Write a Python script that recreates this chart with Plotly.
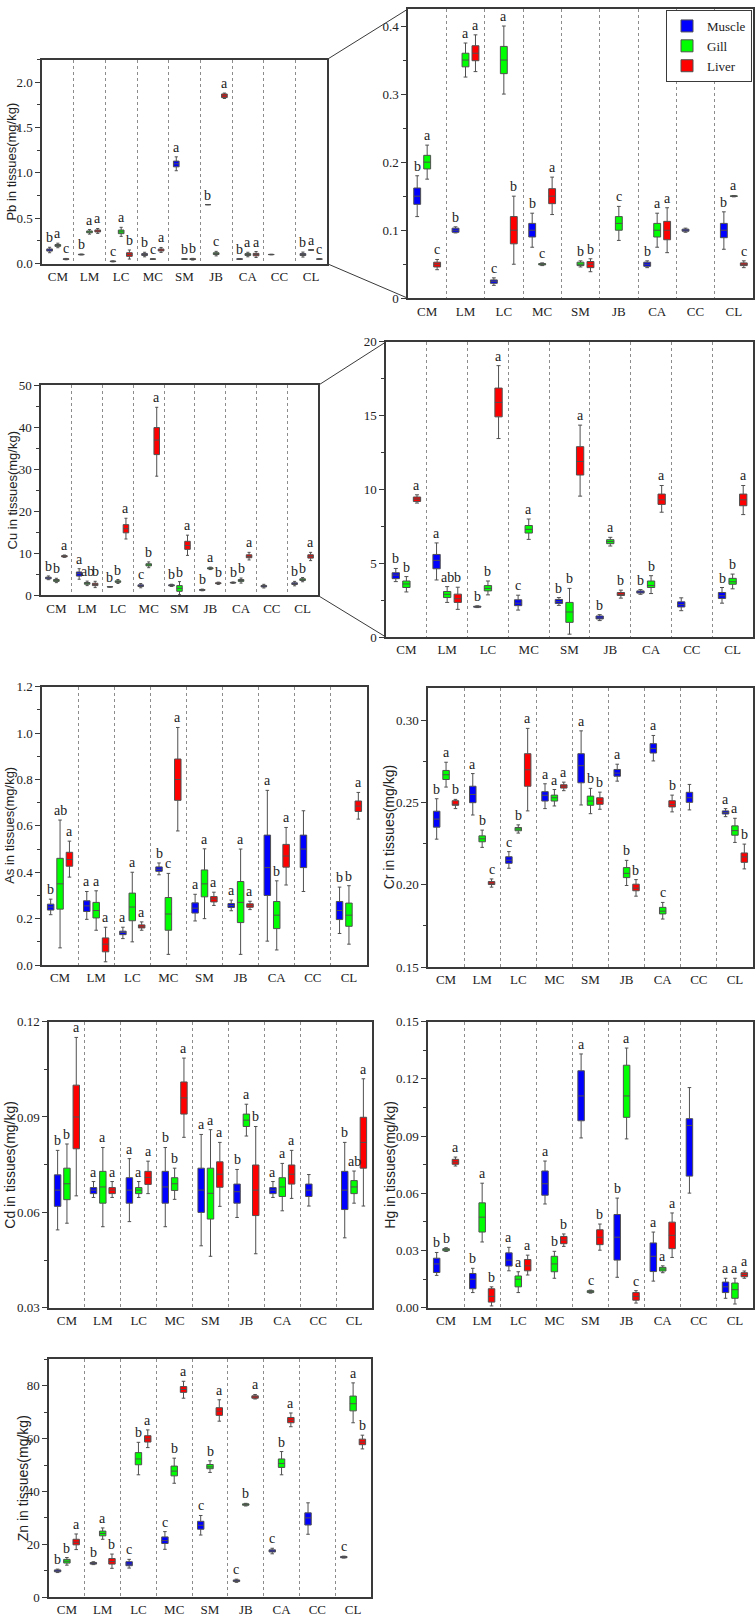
import plotly.graph_objects as go

SITES = ["CM", "LM", "LC", "MC", "SM", "JB", "CA", "CC", "CL"]
TISSUES = ["Muscle", "Gill", "Liver"]
COLORS = {"Muscle": "#0000FF", "Gill": "#00FF00", "Liver": "#FF0000"}

# each entry: (lower whisker, Q1, median, Q3, upper whisker); None = no data
pb_muscle = [(0.12, 0.138, 0.15, 0.162, 0.18), (0.096, 0.097, 0.10, 0.103, 0.105),
             (0.019, 0.022, 0.025, 0.027, 0.03), (0.075, 0.09, 0.10, 0.11, 0.125),
             (1.024, 1.067, 1.10, 1.13, 1.177), (0.65, 0.65, 0.65, 0.65, 0.65),
             (0.045, 0.047, 0.05, 0.053, 0.055), (0.097, 0.0985, 0.10, 0.1015, 0.103),
             (0.072, 0.089, 0.10, 0.11, 0.127)]
pb_gill = [(0.175, 0.19, 0.20, 0.21, 0.225), (0.325, 0.34, 0.35, 0.36, 0.375),
           (0.30, 0.33, 0.35, 0.37, 0.40), (0.048, 0.049, 0.05, 0.051, 0.052),
           (0.046, 0.048, 0.05, 0.053, 0.055), (0.085, 0.10, 0.11, 0.12, 0.135),
           (0.075, 0.09, 0.10, 0.11, 0.125), None,
           (0.149, 0.1495, 0.15, 0.1505, 0.151)]
pb_liver = [(0.042, 0.046, 0.05, 0.053, 0.057), (0.333, 0.349, 0.36, 0.371, 0.387),
            (0.05, 0.08, 0.10, 0.12, 0.15), (0.123, 0.139, 0.15, 0.161, 0.178),
            (0.039, 0.045, 0.05, 0.054, 0.058), (1.82, 1.83, 1.85, 1.87, 1.88),
            (0.067, 0.086, 0.10, 0.113, 0.133), None,
            (0.045, 0.048, 0.05, 0.052, 0.055)]
pb_muscle_sig = ["b", "b", "c", "b", "a", "b", "b", "", "b"]
pb_gill_sig = ["a", "a", "a", "c", "b", "c", "a", "", "a"]
pb_liver_sig = ["c", "a", "b", "a", "b", "a", "a", "", "c"]

cu_muscle = [(3.76, 3.96, 4.2, 4.36, 4.65), (3.87, 4.63, 5.2, 5.6, 6.38),
             (2.0, 2.03, 2.06, 2.09, 2.12), (1.83, 2.13, 2.3, 2.53, 2.84),
             (2.15, 2.28, 2.4, 2.55, 2.68), (1.12, 1.23, 1.3, 1.43, 1.52),
             (2.9, 2.98, 3.05, 3.13, 3.22), (1.79, 2.04, 2.2, 2.39, 2.66),
             (2.3, 2.62, 2.8, 3.02, 3.36)]
cu_gill = [(3.06, 3.36, 3.6, 3.8, 4.1), (2.35, 2.68, 2.9, 3.09, 3.42),
           (2.86, 3.13, 3.3, 3.49, 3.8), (6.62, 7.05, 7.3, 7.56, 8.0),
           (0.2, 1.0, 1.7, 2.35, 3.3), (6.17, 6.33, 6.47, 6.6, 6.76),
           (2.95, 3.36, 3.5, 3.8, 4.16), None,
           (3.27, 3.58, 3.75, 3.98, 4.27)]
cu_liver = [(9.08, 9.19, 9.35, 9.49, 9.64), (1.88, 2.35, 2.6, 2.91, 3.38),
            (13.45, 14.92, 15.9, 16.87, 18.39), (28.4, 33.54, 37.0, 39.97, 44.8),
            (9.55, 10.98, 11.9, 12.9, 14.36), (2.64, 2.82, 2.9, 3.02, 3.18),
            (8.46, 8.99, 9.3, 9.69, 10.27), None,
            (8.3, 8.9, 9.3, 9.69, 10.27)]
cu_muscle_sig = ["b", "a", "b", "c", "b", "b", "b", "", "b"]
cu_gill_sig = ["b", "ab", "b", "a", "b", "a", "b", "", "b"]
cu_gill_sig_overview = ["b", "ab", "b", "b", "b", "a", "b", "", "b"]
cu_liver_sig = ["a", "b", "a", "a", "a", "b", "a", "", "a"]

as_muscle = [(0.217, 0.237, 0.25, 0.2625, 0.284), (0.197, 0.231, 0.255, 0.277, 0.317),
             (0.114, 0.131, 0.14, 0.146, 0.163), (0.389, 0.404, 0.413, 0.423, 0.44),
             (0.19, 0.224, 0.245, 0.268, 0.305), (0.234, 0.248, 0.256, 0.265, 0.28),
             (0.103, 0.30, 0.42, 0.56, 0.753), (0.317, 0.42, 0.50, 0.56, 0.665),
             (0.136, 0.196, 0.235, 0.274, 0.336)]
as_gill = [(0.074, 0.241, 0.35, 0.46, 0.625), (0.15, 0.203, 0.235, 0.27, 0.32),
           (0.10, 0.191, 0.25, 0.31, 0.40), (0.046, 0.15, 0.22, 0.291, 0.395),
           (0.20, 0.294, 0.35, 0.41, 0.501), (0.046, 0.183, 0.27, 0.36, 0.50),
           (0.065, 0.157, 0.215, 0.274, 0.363), None,
           (0.09, 0.167, 0.215, 0.267, 0.342)]
as_liver = [(0.379, 0.426, 0.455, 0.486, 0.534), (0.014, 0.057, 0.09, 0.117, 0.163),
            (0.15, 0.16, 0.165, 0.173, 0.186), (0.578, 0.71, 0.80, 0.888, 1.024),
            (0.257, 0.272, 0.285, 0.295, 0.314), (0.239, 0.249, 0.256, 0.264, 0.275),
            (0.345, 0.422, 0.47, 0.52, 0.593), None,
            (0.629, 0.662, 0.685, 0.707, 0.744)]
as_muscle_sig = ["b", "a", "a", "b", "a", "a", "a", "", "b"]
as_gill_sig = ["ab", "a", "a", "c", "a", "a", "b", "", "b"]
as_liver_sig = ["a", "a", "a", "a", "a", "a", "a", "", "a"]

cr_muscle = [(0.2278, 0.2351, 0.240, 0.2448, 0.2524), (0.2425, 0.25, 0.255, 0.26, 0.2677),
             (0.2101, 0.2131, 0.215, 0.2171, 0.2202), (0.2464, 0.251, 0.2545, 0.2567, 0.2615),
             (0.2486, 0.2621, 0.2725, 0.2798, 0.2937), (0.2631, 0.2661, 0.268, 0.2702, 0.2734),
             (0.2754, 0.2802, 0.283, 0.2859, 0.2909), (0.2456, 0.2502, 0.253, 0.2563, 0.2611),
             (0.2415, 0.2431, 0.244, 0.245, 0.2464)]
cr_gill = [(0.2595, 0.2641, 0.267, 0.2696, 0.2746), (0.2228, 0.2262, 0.228, 0.2298, 0.2333),
           (0.2315, 0.2329, 0.234, 0.2349, 0.2365), (0.248, 0.251, 0.253, 0.2546, 0.258),
           (0.2433, 0.2484, 0.251, 0.254, 0.2587), (0.1996, 0.2044, 0.207, 0.2105, 0.2149),
           (0.1792, 0.1823, 0.184, 0.1863, 0.1893), None,
           (0.2258, 0.2302, 0.233, 0.2359, 0.2405)]
cr_liver = [(0.2464, 0.2484, 0.249, 0.2512, 0.252), (0.1986, 0.2002, 0.201, 0.202, 0.2036),
            (0.245, 0.26, 0.27, 0.2798, 0.2952), (0.2573, 0.2589, 0.26, 0.2609, 0.2625),
            (0.246, 0.249, 0.251, 0.253, 0.2564), (0.1931, 0.1964, 0.198, 0.2004, 0.2032),
            (0.2444, 0.2474, 0.249, 0.2512, 0.2546), None,
            (0.2097, 0.2137, 0.217, 0.2194, 0.2248)]
cr_muscle_sig = ["b", "a", "c", "a", "a", "a", "a", "", "a"]
cr_gill_sig = ["a", "b", "b", "a", "b", "b", "c", "", "a"]
cr_liver_sig = ["b", "c", "a", "a", "b", "b", "b", "", "b"]

cd_muscle = [(0.0545, 0.0619, 0.067, 0.0718, 0.0795), (0.0647, 0.0659, 0.067, 0.0678, 0.0697),
             (0.0571, 0.0629, 0.067, 0.0709, 0.0769), (0.0555, 0.0629, 0.068, 0.0729, 0.0804),
             (0.0495, 0.060, 0.067, 0.0739, 0.0845), (0.0584, 0.0629, 0.0665, 0.0689, 0.0735),
             (0.0647, 0.0659, 0.067, 0.0678, 0.0697), (0.062, 0.065, 0.067, 0.0689, 0.0719),
             (0.052, 0.0609, 0.067, 0.0729, 0.082)]
cd_gill = [(0.0566, 0.064, 0.069, 0.0739, 0.0815), (0.0555, 0.0629, 0.068, 0.0729, 0.0804),
           (0.0647, 0.0659, 0.067, 0.0678, 0.0697), (0.0641, 0.0669, 0.069, 0.0709, 0.0739),
           (0.0462, 0.0579, 0.066, 0.0739, 0.086), (0.084, 0.087, 0.089, 0.0909, 0.094),
           (0.0605, 0.065, 0.068, 0.0709, 0.0754), None,
           (0.0629, 0.0659, 0.068, 0.070, 0.073)]
cd_liver = [(0.0652, 0.080, 0.090, 0.100, 0.115), (0.0647, 0.0659, 0.067, 0.0678, 0.0697),
            (0.0659, 0.0688, 0.071, 0.0729, 0.0761), (0.0836, 0.0909, 0.096, 0.101, 0.1085),
            (0.0619, 0.0679, 0.072, 0.0759, 0.082), (0.047, 0.059, 0.067, 0.0749, 0.087),
            (0.0644, 0.0689, 0.072, 0.0749, 0.0795), None,
            (0.062, 0.0739, 0.082, 0.0899, 0.102)]
cd_muscle_sig = ["b", "a", "a", "b", "a", "b", "a", "", "b"]
cd_gill_sig = ["b", "a", "a", "b", "a", "a", "a", "", "ab"]
cd_liver_sig = ["a", "a", "a", "a", "a", "b", "a", "", "a"]

hg_muscle = [(0.017, 0.0185, 0.023, 0.026, 0.029), (0.008, 0.010, 0.015, 0.018, 0.0207),
             (0.0194, 0.0219, 0.025, 0.0288, 0.0317), (0.0544, 0.059, 0.065, 0.0717, 0.0769),
             (0.089, 0.098, 0.111, 0.1242, 0.133), (0.016, 0.025, 0.037, 0.0489, 0.0575),
             (0.014, 0.019, 0.027, 0.034, 0.0397), (0.0601, 0.069, 0.0955, 0.0991, 0.1154),
             (0.005, 0.008, 0.011, 0.0135, 0.0155)]
hg_gill = [(0.0295, 0.0299, 0.0305, 0.031, 0.0315), (0.0345, 0.0397, 0.0475, 0.055, 0.0653),
           (0.008, 0.011, 0.015, 0.0167, 0.0189), (0.0155, 0.0189, 0.023, 0.027, 0.0296),
           (0.0077, 0.008, 0.0085, 0.009, 0.0093), (0.0885, 0.0998, 0.111, 0.1271, 0.1361),
           (0.0184, 0.0193, 0.0203, 0.0212, 0.022), None,
           (0.002, 0.005, 0.0095, 0.013, 0.0155)]
hg_liver = [(0.0743, 0.0752, 0.0765, 0.0778, 0.079), (0.001, 0.003, 0.006, 0.010, 0.011),
            (0.0172, 0.0194, 0.022, 0.0253, 0.0276), (0.0322, 0.0336, 0.0355, 0.0374, 0.0387),
            (0.0302, 0.0331, 0.037, 0.0409, 0.0439), (0.0025, 0.004, 0.006, 0.008, 0.009),
            (0.0264, 0.031, 0.038, 0.0449, 0.0497), None,
            (0.0155, 0.0163, 0.0175, 0.0184, 0.0193)]
hg_muscle_sig = ["b", "b", "a", "a", "a", "b", "a", "", "a"]
hg_gill_sig = ["b", "a", "a", "b", "c", "a", "a", "", "a"]
hg_liver_sig = ["a", "b", "a", "b", "b", "c", "a", "", "a"]

zn_muscle = [(9.3, 9.6, 9.9, 10.3, 10.6), (12.3, 12.5, 12.8, 13.1, 13.4),
             (11.0, 11.9, 12.5, 13.4, 14.3), (18.1, 20.3, 21.4, 22.8, 24.8),
             (23.5, 25.7, 27.2, 28.7, 30.9), (5.6, 5.9, 6.2, 6.5, 6.8),
             (16.4, 17.1, 17.4, 17.9, 18.5), (23.8, 27.3, 30.0, 31.9, 35.7),
             (14.8, 14.9, 15.1, 15.4, 15.5)]
zn_gill = [(12.1, 12.9, 13.6, 14.3, 15.0), (21.9, 23.2, 24.1, 25.0, 26.2),
           (46.3, 50.1, 52.3, 54.7, 58.6), (43.1, 45.9, 47.7, 49.6, 52.6),
           (47.2, 48.6, 49.3, 50.2, 51.6), (34.5, 34.8, 35.0, 35.3, 35.5),
           (46.3, 49.1, 50.6, 52.3, 55.1), None,
           (66.0, 70.5, 73.2, 76.1, 81.1)]
zn_liver = [(18.0, 19.8, 20.8, 21.9, 23.9), (10.9, 12.5, 13.5, 14.6, 16.3),
            (56.6, 58.7, 59.9, 61.1, 63.3), (75.3, 77.5, 78.6, 79.7, 81.7),
            (66.6, 68.8, 70.4, 71.7, 74.7), (75.0, 75.3, 75.8, 76.2, 76.7),
            (64.5, 66.0, 67.0, 68.0, 69.7), None,
            (56.1, 57.7, 58.7, 59.8, 61.3)]
zn_muscle_sig = ["b", "b", "c", "c", "c", "c", "c", "", "c"]
zn_gill_sig = ["b", "a", "b", "b", "b", "b", "b", "", "a"]
zn_liver_sig = ["a", "b", "a", "a", "a", "a", "a", "", "b"]

# ---------------------------------------------------------------- layout
W, H = 756, 1619
BOXGAP, BOXGROUPGAP = 0.22, 0.31
SERIF = "Liberation Serif"
SANS = "Liberation Sans"
AXC = "#3a3a3a"

panels = [
    dict(data=(pb_muscle, pb_gill, pb_liver), sig=(pb_muscle_sig, pb_gill_sig, pb_liver_sig),
         px=(42, 327), py=(53, 259), yr=(0, 2.25), dtick=0.5, minor=0.25, fmt=".1f",
         title="Pb in tissues(mg/kg)", tx=12, ts=13),
    dict(data=(pb_muscle, pb_gill, pb_liver), sig=(pb_muscle_sig, pb_gill_sig, pb_liver_sig),
         px=(408, 753), py=(2, 294), yr=(0, 0.425), dtick=0.1, minor=0.05, fmt="",
         title=None, legend=True),
    dict(data=(cu_muscle, cu_gill, cu_liver), sig=(cu_muscle_sig, cu_gill_sig_overview, cu_liver_sig),
         px=(41, 318), py=(382, 594), yr=(0, 50), dtick=10, minor=5, fmt="",
         title="Cu in tissues(mg/kg)", tx=12, ts=13),
    dict(data=(cu_muscle, cu_gill, cu_liver), sig=(cu_muscle_sig, cu_gill_sig, cu_liver_sig),
         px=(386, 753), py=(338, 636), yr=(0, 20), dtick=5, minor=2.5, fmt="", title=None),
    dict(data=(as_muscle, as_gill, as_liver), sig=(as_muscle_sig, as_gill_sig, as_liver_sig),
         px=(42, 367), py=(686, 967), yr=(0, 1.2), dtick=0.2, minor=0.1, fmt=".1f",
         title="As in tissues(mg/kg)", tx=10, ts=13),
    dict(data=(cr_muscle, cr_gill, cr_liver), sig=(cr_muscle_sig, cr_gill_sig, cr_liver_sig),
         px=(428, 753), py=(687, 969), yr=(0.15, 0.32), dtick=0.05, minor=0.025, fmt=".2f",
         title="Cr in tissues(mg/kg)", tx=389, ts=14),
    dict(data=(cd_muscle, cd_gill, cd_liver), sig=(cd_muscle_sig, cd_gill_sig, cd_liver_sig),
         px=(49, 372), py=(1024, 1313), yr=(0.03, 0.12), dtick=0.03, minor=0.015, fmt=".2f",
         title="Cd in tissues(mg/kg)", tx=10, ts=14),
    dict(data=(hg_muscle, hg_gill, hg_liver), sig=(hg_muscle_sig, hg_gill_sig, hg_liver_sig),
         px=(428, 753), py=(1024, 1313), yr=(0, 0.15), dtick=0.03, minor=0.015, fmt=".2f",
         title="Hg in tissues(mg/kg)", tx=390, ts=14),
    dict(data=(zn_muscle, zn_gill, zn_liver), sig=(zn_muscle_sig, zn_gill_sig, zn_liver_sig),
         px=(49, 371), py=(1365, 1605), yr=(0, 90), dtick=20, minor=10, fmt="",
         title="Zn in tissues(mg/kg)", tx=23, ts=14),
]

fig = go.Figure()
layout = {}
annotations = []
shapes = []

gf = 1 - BOXGAP
for i, p in enumerate(panels, start=1):
    sfx = "" if i == 1 else str(i)
    xa, ya = "x" + sfx, "y" + sfx
    x0, x1 = p["px"]
    y0, y1 = p["py"]
    layout["xaxis" + sfx] = dict(
        domain=[x0 / W, x1 / W], anchor=ya, type="category",
        categoryorder="array", categoryarray=SITES, range=[-0.5, 8.5],
        tickson="boundaries", ticks="", showgrid=True, gridcolor="#8c8c8c",
        griddash="dot", gridwidth=1, showline=True, linecolor=AXC, linewidth=1.5,
        mirror=True, tickfont=dict(family=SERIF, size=13, color="#222"), fixedrange=True,
    )
    layout["yaxis" + sfx] = dict(
        domain=[1 - y1 / H, 1 - y0 / H], anchor=xa, range=list(p["yr"]),
        dtick=p["dtick"], tickformat=p["fmt"], ticks="outside", ticklen=5,
        tickcolor=AXC, tickwidth=1, showgrid=False, zeroline=False, showline=True,
        linecolor=AXC, linewidth=1.5, mirror=True,
        minor=dict(dtick=p["minor"], ticks="outside", ticklen=3, tickcolor=AXC, showgrid=False),
        tickfont=dict(family=SERIF, size=13, color="#222"), fixedrange=True,
    )
    cat_px = (x1 - x0) / 9.0
    for k, (tissue, stats, sig) in enumerate(zip(TISSUES, p["data"], p["sig"])):
        xs = [s for s, v in zip(SITES, stats) if v is not None]
        vals = [v for v in stats if v is not None]
        fig.add_trace(go.Box(
            x=xs,
            lowerfence=[v[0] for v in vals], q1=[v[1] for v in vals],
            median=[v[2] for v in vals], q3=[v[3] for v in vals],
            upperfence=[v[4] for v in vals],
            name=tissue, legendgroup=tissue, showlegend=bool(p.get("legend")),
            fillcolor=COLORS[tissue], line=dict(color="#505050", width=1),
            whiskerwidth=0.55, boxpoints=False, hoverinfo="skip",
            offsetgroup=tissue, alignmentgroup="panel%d" % i,
            xaxis=xa, yaxis=ya,
        ))
        shift = (k - 1) * gf / 3.0 * cat_px
        for s, v, lab in zip(SITES, stats, sig):
            if v is None or not lab or v[4] > p["yr"][1]:
                continue
            annotations.append(dict(
                x=s, y=v[4], xref=xa, yref=ya, text=lab, showarrow=False,
                xshift=shift, yshift=0, yanchor="bottom", xanchor="center",
                font=dict(family=SERIF, size=14, color="#222"),
            ))
    if p["title"]:
        annotations.append(dict(
            x=p["tx"] / W, y=1 - (y0 + y1) / 2.0 / H, xref="paper", yref="paper",
            text=p["title"], textangle=-90, showarrow=False, xanchor="center",
            yanchor="middle", font=dict(family=SANS, size=p["ts"], color="#222"),
        ))


def pline(xa_, ya_, xb_, yb_):
    shapes.append(dict(type="line", xref="paper", yref="paper",
                       x0=xa_ / W, y0=1 - ya_ / H, x1=xb_ / W, y1=1 - yb_ / H,
                       line=dict(color=AXC, width=1)))


# zoom connectors between overview and detail panels
pline(327, 53, 408, 2)
pline(327, 259, 408, 294)
pline(318, 382, 386, 338)
pline(318, 594, 386, 636)

fig.update_layout(
    width=W, height=H, margin=dict(l=0, r=0, t=0, b=0),
    paper_bgcolor="white", plot_bgcolor="white",
    boxmode="group", boxgap=BOXGAP, boxgroupgap=BOXGROUPGAP,
    annotations=annotations, shapes=shapes,
    legend=dict(x=752 / W, y=1 - 3 / H, xanchor="right", yanchor="top",
                bgcolor="white", bordercolor=AXC, borderwidth=1,
                font=dict(family=SERIF, size=13, color="#222"),
                tracegroupgap=0, itemwidth=30),
    **layout,
)

fig.write_html("out.html", config={"displayModeBar": False})

# remove the browser's default page margin so the figure fills the window exactly
with open("out.html", "r", encoding="utf-8") as fh:
    html = fh.read()
html = html.replace("<head>", "<head><style>html,body{margin:0;padding:0;overflow:hidden;}</style>", 1)
with open("out.html", "w", encoding="utf-8") as fh:
    fh.write(html)
